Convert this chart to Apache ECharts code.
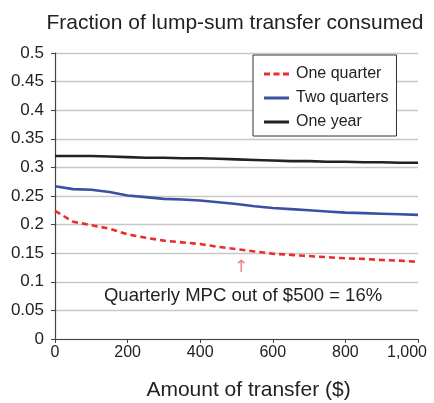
<!DOCTYPE html>
<html><head><meta charset="utf-8">
<script src="https://cdn.jsdelivr.net/npm/echarts@6/dist/echarts.min.js"></script>
<style>html,body{margin:0;padding:0;background:#fff}#c{width:434px;height:403px}</style>
</head><body><div id="c"></div>
<script>
var transfers = [0,50,100,150,200,250,300,350,400,450,500,550,600,650,700,750,800,850,900,950,1000];
var oneQuarter = [0.224,0.205,0.199,0.193,0.183,0.177,0.172,0.169,0.166,0.161,0.157,0.153,0.149,0.147,0.145,0.143,0.141,0.140,0.138,0.137,0.135];
var twoQuarters = [0.267,0.262,0.261,0.257,0.251,0.248,0.245,0.244,0.242,0.239,0.236,0.232,0.229,0.227,0.225,0.223,0.221,0.220,0.219,0.218,0.217];
var oneYear = [0.320,0.320,0.320,0.319,0.318,0.317,0.317,0.316,0.316,0.315,0.314,0.313,0.312,0.311,0.311,0.310,0.310,0.309,0.309,0.308,0.308];
var seriesNames = ['One quarter','Two quarters','One year'];
var yTicks = [0,0.05,0.1,0.15,0.2,0.25,0.3,0.35,0.4,0.45,0.5];
var xTicks = [0,200,400,600,800,1000];
var annotation = 'Quarterly MPC out of $500 = 16%';

function pairs(v){ return transfers.map(function(x,i){ return [x, v[i]]; }); }
var font = 'Liberation Sans, Arial, sans-serif';
var dashIcon = 'path://M0,0h6v3h-6z M9.5,0h6v3h-6z M19,0h6v3h-6z';
var solidIcon = 'path://M0,0h25v3h-25z';
var chart = echarts.init(document.getElementById('c'), null, {renderer:'canvas'});
chart.setOption({
  animation:false,
  title:{text:'Fraction of lump-sum transfer consumed', left:230, top:8, textAlign:'center',
    textStyle:{fontFamily:font, fontSize:21, fontWeight:'normal', color:'#222'}},
  grid:{left:55, right:16, top:53, bottom:64, outerBoundsMode:'none', containLabel:false},
  legend:{orient:'vertical', left:253, top:55, padding:[11,8,6,11],
    data:[
      {name:seriesNames[0], icon:dashIcon, itemStyle:{color:'#ee2a2a'}},
      {name:seriesNames[1], icon:solidIcon, itemStyle:{color:'#3a50a2'}},
      {name:seriesNames[2], icon:solidIcon, itemStyle:{color:'#222'}}
    ],
    itemWidth:25, itemHeight:3, itemGap:8, borderColor:'#333', borderWidth:1, backgroundColor:'#fff',
    textStyle:{fontFamily:font, fontSize:16, color:'#222', padding:[0,0,0,2]}},
  xAxis:{type:'value', min:0, max:1000, interval:200,
    name:'Amount of transfer ($)', nameLocation:'middle', nameGap:41,
    nameTextStyle:{fontFamily:font, fontSize:21, color:'#222', padding:[0,0,0,24]},
    axisLine:{lineStyle:{color:'#444', width:1.2}},
    axisTick:{show:true, length:4, lineStyle:{color:'#444'}},
    splitLine:{show:false},
    axisLabel:{fontFamily:font, fontSize:16, color:'#222', margin:6,
      rich:{last:{fontFamily:font, fontSize:16, color:'#222', padding:[0,22,0,0]}},
      formatter:function(v){ var s = v.toLocaleString('en-US'); return v === xTicks[xTicks.length-1] ? '{last|' + s + '}' : s; }}},
  yAxis:{type:'value', min:0, max:0.5, interval:0.05,
    axisLine:{show:true, lineStyle:{color:'#444', width:1.2}},
    axisTick:{show:true, length:4, lineStyle:{color:'#444'}},
    splitLine:{show:true, lineStyle:{color:'#c8c8c8', width:1.3}},
    axisLabel:{fontFamily:font, fontSize:17, color:'#222', margin:11,
      formatter:function(v){ return String(+v.toFixed(2)); }}},
  series:[
    {name:seriesNames[0], type:'line', data:pairs(oneQuarter), symbol:'none', smooth:false, z:3,
     lineStyle:{color:'#ee2a2a', width:2.6, type:[6,4]}, itemStyle:{color:'#ee2a2a'},
     markPoint:{symbol:'circle', symbolSize:1, silent:true, itemStyle:{color:'rgba(0,0,0,0)'}, data:[
       {coord:[513,0.1256], label:{show:true, position:'inside', formatter:'↑', color:'#f08080', fontFamily:'DejaVu Sans', fontSize:17}},
       {coord:[518,0.0748], label:{show:true, position:'inside', formatter:annotation, color:'#222', fontFamily:font, fontSize:18.5}}
     ]}},
    {name:seriesNames[1], type:'line', data:pairs(twoQuarters), symbol:'none', z:3,
     lineStyle:{color:'#3a50a2', width:2.6}, itemStyle:{color:'#3a50a2'}},
    {name:seriesNames[2], type:'line', data:pairs(oneYear), symbol:'none', z:3,
     lineStyle:{color:'#222', width:2.6}, itemStyle:{color:'#222'}}
  ]
});
</script></body></html>
